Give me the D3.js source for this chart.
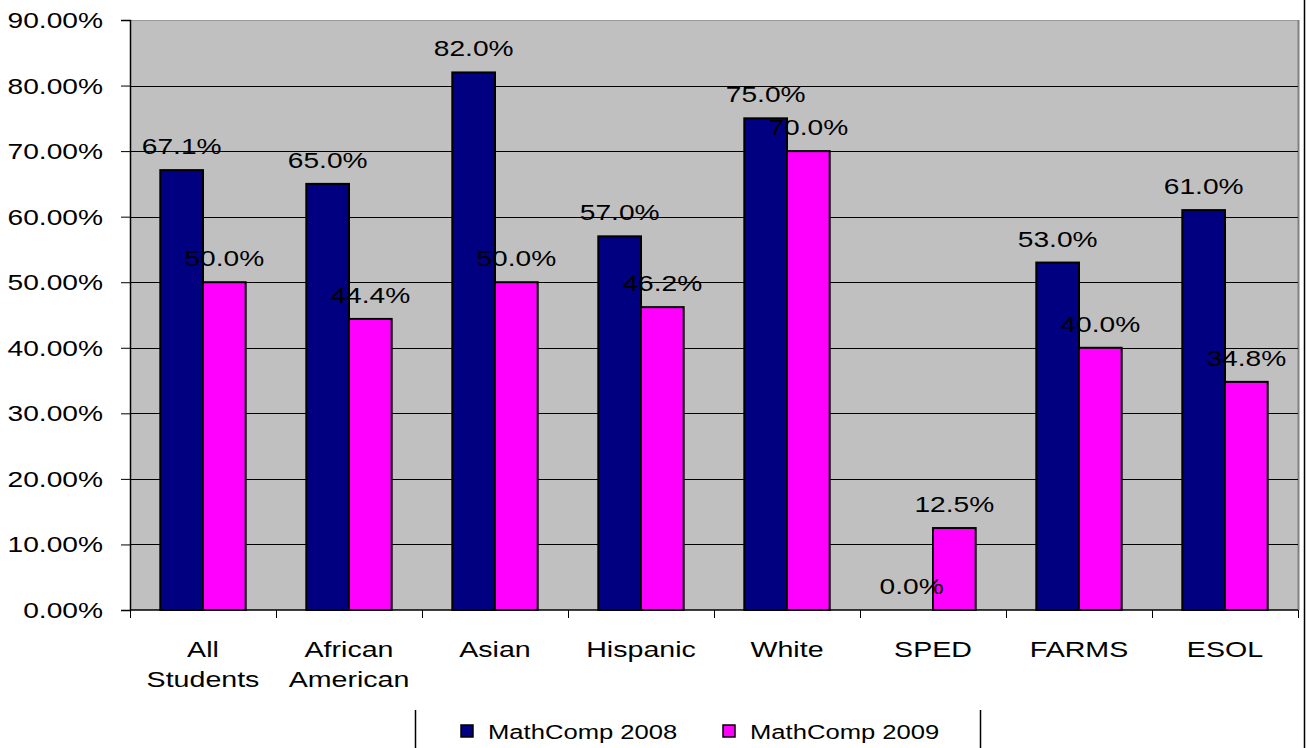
<!DOCTYPE html>
<html>
<head>
<meta charset="utf-8">
<script src="https://cdn.jsdelivr.net/npm/d3@7"></script>
<style>
  html, body { margin: 0; padding: 0; background: #fff; }
  svg { display: block; }
  text { font-family: "Liberation Sans", Arial, sans-serif; fill: #000; }
</style>
</head>
<body>
<svg id="chart" width="1309" height="748"></svg>
<script>
const categories = ["All Students", "African American", "Asian", "Hispanic", "White", "SPED", "FARMS", "ESOL"];
const seriesNames = ["MathComp 2008", "MathComp 2009"];
const values2008 = [67.1, 65.0, 82.0, 57.0, 75.0, 0.0, 53.0, 61.0];
const values2009 = [50.0, 44.4, 50.0, 46.2, 70.0, 12.5, 40.0, 34.8];
const seriesColors = ["#000080", "#FF00FF"];
const yTicks = [0, 10, 20, 30, 40, 50, 60, 70, 80, 90];

const svg = d3.select("#chart");
const plot = { left: 130, right: 1298, top: 20, bottom: 610 };
const SX = 1.28; // horizontal stretch of text as in reference

const x0 = d3.scaleBand().domain(categories).range([plot.left, plot.right]).paddingInner(0).paddingOuter(0);
const x1 = d3.scaleBand().domain(seriesNames).range([0, x0.bandwidth()]).paddingInner(0).paddingOuter(0.71);
const y = d3.scaleLinear().domain([0, 90]).range([plot.bottom, plot.top]);

function stretchedText(g, x, yy, str, size, anchor, sx) {
  return g.append("text")
    .attr("transform", `translate(${x},${yy}) scale(${sx || SX},1)`)
    .attr("text-anchor", anchor)
    .style("font-size", size + "px")
    .text(str);
}

// plot background
svg.append("rect")
  .attr("x", plot.left).attr("y", plot.top)
  .attr("width", plot.right - plot.left).attr("height", plot.bottom - plot.top)
  .attr("fill", "#C0C0C0");
// top border & right shadow
svg.append("line").attr("x1", plot.left).attr("x2", plot.right).attr("y1", plot.top + 0.5).attr("y2", plot.top + 0.5)
  .attr("stroke", "#9a9a9a").attr("stroke-width", 1);
svg.append("line").attr("x1", plot.right + 0.5).attr("x2", plot.right + 0.5).attr("y1", plot.top).attr("y2", plot.bottom)
  .attr("stroke", "#808080").attr("stroke-width", 2);

// gridlines
svg.append("g").selectAll("line")
  .data(yTicks.filter(t => t > 0 && t < 90))
  .join("line")
  .attr("x1", plot.left).attr("x2", plot.right)
  .attr("y1", d => Math.round(y(d)) + 0.5).attr("y2", d => Math.round(y(d)) + 0.5)
  .attr("stroke", "#000").attr("stroke-width", 1);

// y axis
const yAxisG = svg.append("g").attr("transform", `translate(${plot.left},0)`)
  .call(d3.axisLeft(y).tickValues(yTicks).tickSize(9).tickFormat(""));
yAxisG.select(".domain").attr("stroke", "#000").attr("stroke-width", 1.5);
yAxisG.selectAll(".tick line").attr("stroke", "#000");
const yLabelG = svg.append("g");
yTicks.forEach(t => {
  stretchedText(yLabelG, 103, y(t) + 8, (t).toFixed(2) + "%", 22, "end");
});

// bars
const bars = svg.append("g");
categories.forEach((c, i) => {
  const vals = [values2008[i], values2009[i]];
  seriesNames.forEach((s, j) => {
    const v = vals[j];
    if (v > 0) {
      bars.append("rect")
        .attr("x", x0(c) + x1(s))
        .attr("y", y(v))
        .attr("width", x1.bandwidth())
        .attr("height", y(0) - y(v))
        .attr("fill", seriesColors[j])
        .attr("stroke", "#000")
        .attr("stroke-width", 2);
    }
  });
});

// x axis
const xAxisG = svg.append("g").attr("transform", `translate(0,${plot.bottom})`);
xAxisG.append("line").attr("x1", plot.left).attr("x2", plot.right).attr("y1", 0).attr("y2", 0)
  .attr("stroke", "#000").attr("stroke-width", 1.5);
const boundaries = categories.map(c => x0(c)).concat([x0(categories[categories.length - 1]) + x0.bandwidth()]);
xAxisG.selectAll(".xtick").data(boundaries).join("line")
  .attr("class", "xtick")
  .attr("x1", d => Math.round(d) + 0.5).attr("x2", d => Math.round(d) + 0.5)
  .attr("y1", 0).attr("y2", 8)
  .attr("stroke", "#000");

// category labels
const catG = svg.append("g");
categories.forEach(c => {
  const cx = x0(c) + x0.bandwidth() / 2;
  const words = c.split(" ");
  words.forEach((w, k) => {
    stretchedText(catG, cx, 657 + k * 30, w, 22, "middle", 1.3);
  });
});

// value labels
const lblG = svg.append("g");
categories.forEach((c, i) => {
  const vals = [values2008[i], values2009[i]];
  seriesNames.forEach((s, j) => {
    const cx = x0(c) + x1(s) + x1.bandwidth() / 2;
    stretchedText(lblG, cx, y(vals[j]) - 16, vals[j].toFixed(1) + "%", 22, "middle");
  });
});

// legend
const legG = svg.append("g");
legG.append("line").attr("x1", 415.5).attr("x2", 415.5).attr("y1", 710).attr("y2", 748).attr("stroke", "#000").attr("stroke-width", 1.5);
legG.append("line").attr("x1", 980.5).attr("x2", 980.5).attr("y1", 710).attr("y2", 748).attr("stroke", "#000").attr("stroke-width", 1.5);
const legX = [461, 723];
seriesNames.forEach((s, j) => {
  legG.append("rect")
    .attr("x", legX[j]).attr("y", 725).attr("width", 12).attr("height", 12)
    .attr("fill", seriesColors[j]).attr("stroke", "#000").attr("stroke-width", 1.5);
  stretchedText(legG, legX[j] + 27, 739, s, 20, "start");
});

// right frame line
svg.append("line").attr("x1", 1304.5).attr("x2", 1304.5).attr("y1", 0).attr("y2", 748)
  .attr("stroke", "#000").attr("stroke-width", 1.5);
</script>
</body>
</html>
